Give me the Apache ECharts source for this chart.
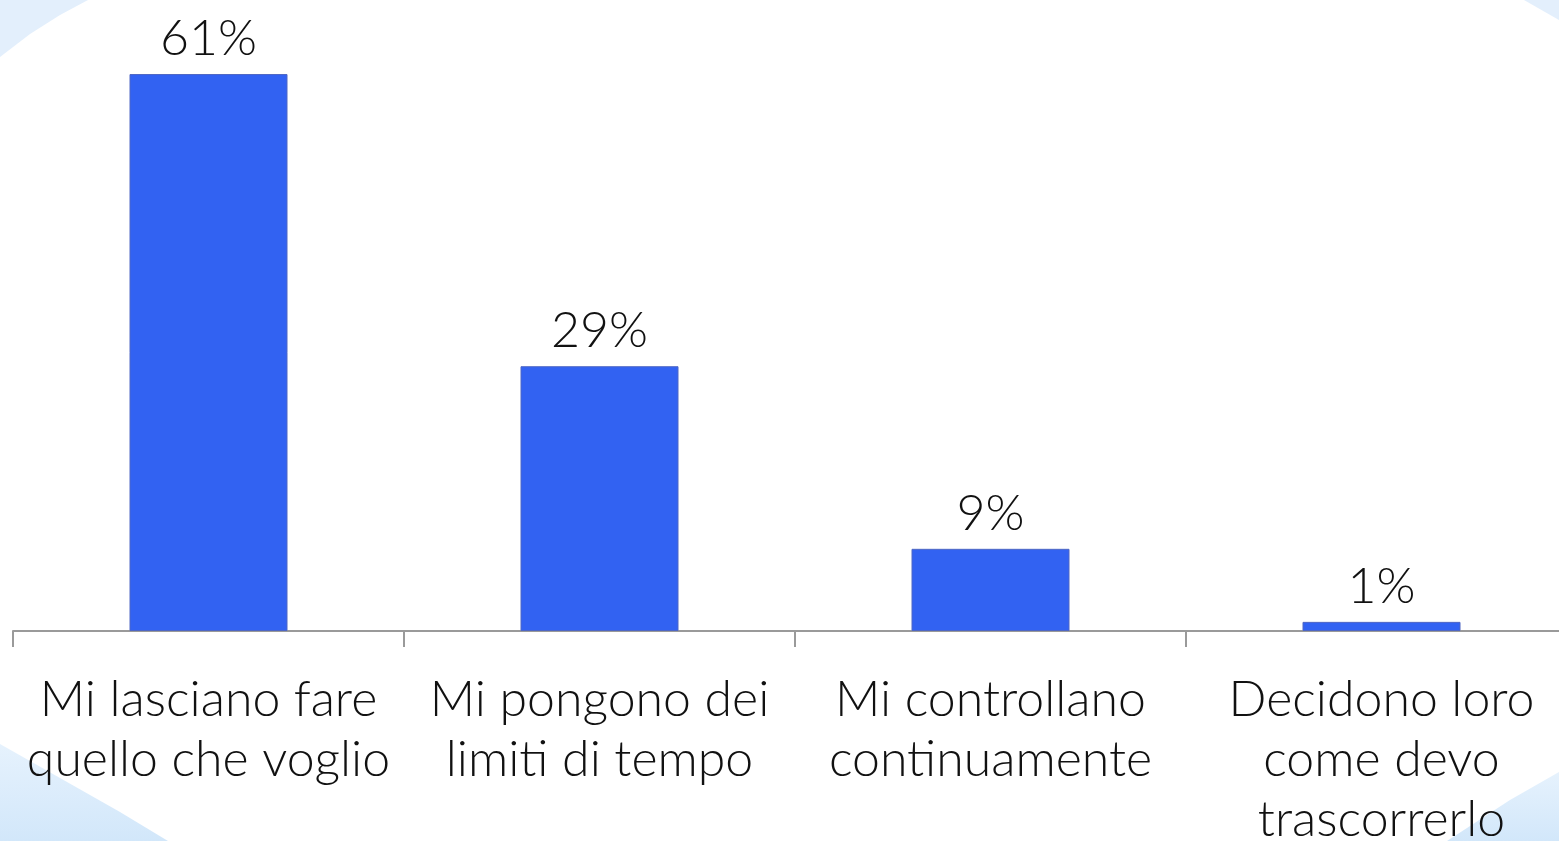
<!DOCTYPE html>
<html><head><meta charset="utf-8">
<script src="https://cdn.jsdelivr.net/npm/echarts@6/dist/echarts.min.js"></script>
<style>html,body{margin:0;padding:0;background:#fff}#c{width:1559px;height:841px}</style>
</head><body><div id="c"></div>
<script>
const categories = ["Mi lasciano fare\nquello che voglio", "Mi pongono dei\nlimiti di tempo", "Mi controllano\ncontinuamente", "Decidono loro\ncome devo\ntrascorrerlo"];
const values = [61, 29, 9, 1];

const chart = echarts.init(document.getElementById('c'));
const blue = {type:'linear',x:0,y:0,x2:0,y2:1,colorStops:[{offset:0,color:'#e6f2fd'},{offset:1,color:'#d2e7fa'}]};
chart.setOption({
  backgroundColor: '#ffffff',
  animation: false,
  graphic: [
    {type:'polygon', silent:true, shape:{points:[[0,0],[88,0],[60,15],[30,34],[0,57]]}, style:{fill:'#e3effc'}},
    {type:'polygon', silent:true, shape:{points:[[1524,0],[1559,0],[1559,20]]}, style:{fill:'#e3effc'}},
    {type:'polygon', silent:true, shape:{points:[[0,744],[60,778],[120,812],[168,841],[0,841]]}, style:{fill:blue}},
    {type:'polygon', silent:true, shape:{points:[[1559,772],[1510,800],[1447,841],[1559,841]]}, style:{fill:blue}}
  ],
  grid: {left: 13, top: 1, height: 630, width: 1564, containLabel: false, outerBoundsMode: 'none'},
  xAxis: {
    type: 'category', data: categories,
    axisLine: {show: true, lineStyle: {color: '#9a9a9a', width: 2}},
    axisTick: {show: true, length: 16, alignWithLabel: false, lineStyle: {color: '#9a9a9a', width: 2}},
    axisLabel: {color: '#111', fontFamily: 'Lato', fontWeight: 300, fontSize: 50, lineHeight: 60, margin: 39, interval: 0}
  },
  yAxis: {type: 'value', min: 0, max: 69, show: false, splitLine: {show: false}},
  series: [{
    type: 'bar', data: values, barWidth: 158,
    itemStyle: {color: '#3262f2', borderColor: '#4f67c4', borderWidth: 1},
    label: {show: true, position: 'top', distance: 10, formatter: '{c}%', color: '#111', fontFamily: 'Lato', fontWeight: 300, fontSize: 50}
  }]
});
</script></body></html>
